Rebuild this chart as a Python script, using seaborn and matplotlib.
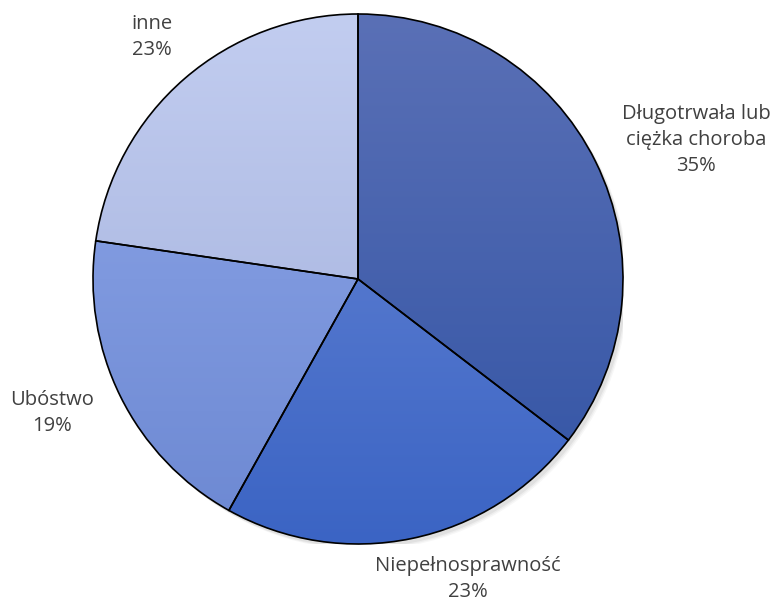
import numpy as np
import matplotlib
matplotlib.use("Agg")
import matplotlib.pyplot as plt
import seaborn as sns
from matplotlib.colors import LinearSegmentedColormap

categories = ["Długotrwała lub\nciężka choroba", "Niepełnosprawność", "Ubóstwo", "inne"]
shares = [35.4, 22.7, 19.2, 22.7]
top_colors = ["#5a70b6", "#6b89d6", "#90a8ea", "#c2cdf0"]
bottom_colors = ["#3153a4", "#3b64c4", "#6c88d2", "#9fadda"]

# label placement: distance from centre (in radii) and angle shift from wedge middle
label_dist = [1.38, 1.205, 1.26, 1.20]
label_shift = [-4.0, 8.5, -2.7, -0.4]

sns.set_theme(style="white")
plt.rcParams["font.family"] = ["Open Sans", "DejaVu Sans"]

fig = plt.figure(figsize=(7.74, 6.05), dpi=100)
ax = fig.add_axes([93 / 774, 61 / 605, 530 / 774, 530 / 605])

# soft shadow under the pie
for k, a in enumerate([0.05, 0.04, 0.03]):
    ax.add_patch(plt.Circle((0.012 + 0.004 * k, -0.014 - 0.004 * k), 1.0, color="black",
                            alpha=a, zorder=0, lw=0))

wedges, _ = ax.pie(shares, startangle=90, counterclock=False, radius=1.0,
                   wedgeprops=dict(edgecolor="black", linewidth=1.2), frame=False)
ax.set_xlim(-1, 1)
ax.set_ylim(-1, 1)
ax.set_aspect("equal")
ax.axis("off")

grad = np.linspace(0, 1, 256).reshape(-1, 1)
for w, c0, c1 in zip(wedges, top_colors, bottom_colors):
    cmap = LinearSegmentedColormap.from_list("g", [c0, c1])
    w.set_facecolor("none")
    w.set_zorder(3)
    im = ax.imshow(grad, cmap=cmap, extent=(-1, 1, -1, 1), aspect="auto",
                   origin="upper", zorder=2)
    im.set_clip_path(w)

for w, name, val, d, s in zip(wedges, categories, shares, label_dist, label_shift):
    mid = np.deg2rad((w.theta1 + w.theta2) / 2 + s)
    ax.text(d * np.cos(mid), d * np.sin(mid), f"{name}\n{val:.0f}%",
            ha="center", va="center", fontsize=14.5, color="#404040",
            linespacing=1.4, clip_on=False)

fig.savefig("out.png", dpi=100)
